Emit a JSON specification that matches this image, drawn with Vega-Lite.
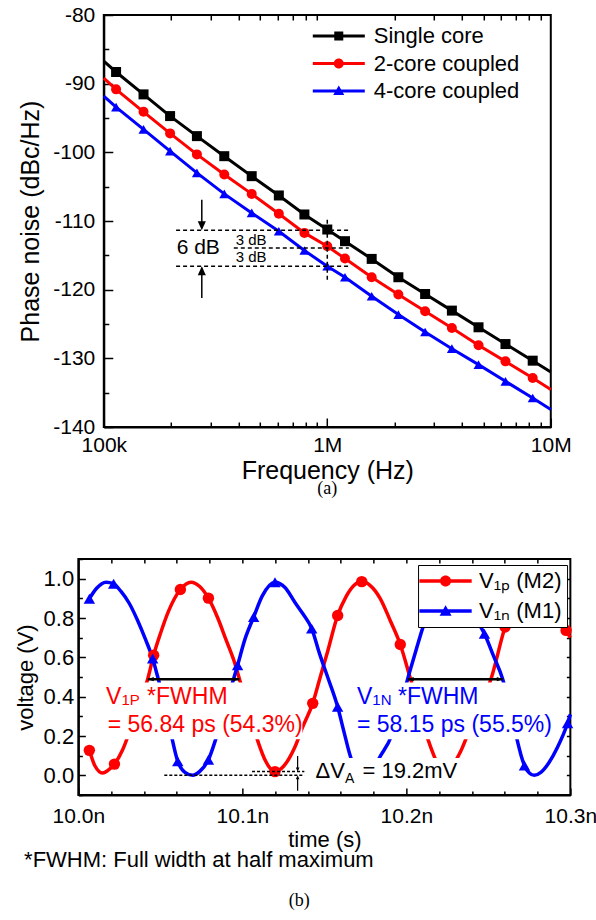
{
  "$schema": "https://vega.github.io/schema/vega-lite/v6.json",
  "background": "white",
  "padding": {"left": 0, "top": 3, "right": 0, "bottom": 0},
  "center": true,
  "spacing": 48,
  "title": {"text": "(b)", "orient": "bottom", "anchor": "middle", "font": "Liberation Serif", "fontSize": 18, "fontWeight": "normal", "color": "black", "offset": 20},
  "datasets": {
    "pn": [
      {"series": "Single core", "freq": 100000, "noise": -86.7},
      {"series": "Single core", "freq": 113500, "noise": -88.3, "marker": true},
      {"series": "Single core", "freq": 150600, "noise": -91.56, "marker": true},
      {"series": "Single core", "freq": 198000, "noise": -94.72, "marker": true},
      {"series": "Single core", "freq": 261000, "noise": -97.64, "marker": true},
      {"series": "Single core", "freq": 346000, "noise": -100.56, "marker": true},
      {"series": "Single core", "freq": 459000, "noise": -103.47, "marker": true},
      {"series": "Single core", "freq": 607000, "noise": -106.28, "marker": true},
      {"series": "Single core", "freq": 790000, "noise": -109.05, "marker": true},
      {"series": "Single core", "freq": 1000000, "noise": -111.24, "marker": true},
      {"series": "Single core", "freq": 1200000, "noise": -112.94, "marker": true},
      {"series": "Single core", "freq": 1580000, "noise": -115.52, "marker": true},
      {"series": "Single core", "freq": 2080000, "noise": -118.19, "marker": true},
      {"series": "Single core", "freq": 2740000, "noise": -120.63, "marker": true},
      {"series": "Single core", "freq": 3610000, "noise": -123.05, "marker": true},
      {"series": "Single core", "freq": 4750000, "noise": -125.48, "marker": true},
      {"series": "Single core", "freq": 6270000, "noise": -127.92, "marker": true},
      {"series": "Single core", "freq": 8300000, "noise": -130.34, "marker": true},
      {"series": "Single core", "freq": 10000000, "noise": -132.0},
      {"series": "2-core coupled", "freq": 100000, "noise": -89.2},
      {"series": "2-core coupled", "freq": 113500, "noise": -90.83, "marker": true},
      {"series": "2-core coupled", "freq": 150600, "noise": -94.1, "marker": true},
      {"series": "2-core coupled", "freq": 198000, "noise": -97.24, "marker": true},
      {"series": "2-core coupled", "freq": 261000, "noise": -100.3, "marker": true},
      {"series": "2-core coupled", "freq": 346000, "noise": -103.22, "marker": true},
      {"series": "2-core coupled", "freq": 459000, "noise": -106.05, "marker": true},
      {"series": "2-core coupled", "freq": 607000, "noise": -108.94, "marker": true},
      {"series": "2-core coupled", "freq": 790000, "noise": -111.73, "marker": true},
      {"series": "2-core coupled", "freq": 1000000, "noise": -113.67, "marker": true},
      {"series": "2-core coupled", "freq": 1200000, "noise": -115.47, "marker": true},
      {"series": "2-core coupled", "freq": 1580000, "noise": -118.19, "marker": true},
      {"series": "2-core coupled", "freq": 2080000, "noise": -120.71, "marker": true},
      {"series": "2-core coupled", "freq": 2740000, "noise": -123.15, "marker": true},
      {"series": "2-core coupled", "freq": 3610000, "noise": -125.58, "marker": true},
      {"series": "2-core coupled", "freq": 4750000, "noise": -128.1, "marker": true},
      {"series": "2-core coupled", "freq": 6270000, "noise": -130.44, "marker": true},
      {"series": "2-core coupled", "freq": 8300000, "noise": -132.87, "marker": true},
      {"series": "2-core coupled", "freq": 10000000, "noise": -134.55},
      {"series": "4-core coupled", "freq": 100000, "noise": -91.8},
      {"series": "4-core coupled", "freq": 113500, "noise": -93.41, "marker": true},
      {"series": "4-core coupled", "freq": 150600, "noise": -96.66, "marker": true},
      {"series": "4-core coupled", "freq": 198000, "noise": -99.83, "marker": true},
      {"series": "4-core coupled", "freq": 261000, "noise": -102.99, "marker": true},
      {"series": "4-core coupled", "freq": 346000, "noise": -106.05, "marker": true},
      {"series": "4-core coupled", "freq": 459000, "noise": -108.82, "marker": true},
      {"series": "4-core coupled", "freq": 607000, "noise": -111.49, "marker": true},
      {"series": "4-core coupled", "freq": 790000, "noise": -114.3, "marker": true},
      {"series": "4-core coupled", "freq": 1000000, "noise": -116.59, "marker": true},
      {"series": "4-core coupled", "freq": 1200000, "noise": -118.19, "marker": true},
      {"series": "4-core coupled", "freq": 1580000, "noise": -120.96, "marker": true},
      {"series": "4-core coupled", "freq": 2080000, "noise": -123.63, "marker": true},
      {"series": "4-core coupled", "freq": 2740000, "noise": -126.17, "marker": true},
      {"series": "4-core coupled", "freq": 3610000, "noise": -128.59, "marker": true},
      {"series": "4-core coupled", "freq": 4750000, "noise": -130.92, "marker": true},
      {"series": "4-core coupled", "freq": 6270000, "noise": -133.35, "marker": true},
      {"series": "4-core coupled", "freq": 8300000, "noise": -135.78, "marker": true},
      {"series": "4-core coupled", "freq": 10000000, "noise": -137.45}
    ],
    "dashH": [
      {"freq": 210600, "freq2": 1248000, "noise": -111.34},
      {"freq": 381700, "freq2": 1248000, "noise": -113.92},
      {"freq": 210600, "freq2": 1248000, "noise": -116.59}
    ],
    "dashV": [
      {"freq": 1000000, "noise": -109.8, "noise2": -118.6}
    ],
    "shaftsA": [
      {"freq": 274500, "noise": -106.9, "noise2": -111.0},
      {"freq": 274500, "noise": -121.2, "noise2": -116.8}
    ],
    "headsA": [
      {"freq": 274500, "noise": -111.34, "dir": "down"},
      {"freq": 274500, "noise": -116.59, "dir": "up"}
    ],
    "notesA": [
      {"freq": 264700, "noise": -113.9, "label": "6 dB", "kind": "big"},
      {"freq": 456000, "noise": -112.7, "label": "3 dB", "kind": "small"},
      {"freq": 456000, "noise": -115.3, "label": "3 dB", "kind": "small"}
    ],
    "wave": [
      {"series": "V1P (M2)", "time": 10.0067, "voltage": 0.127, "marker": true},
      {"series": "V1P (M2)", "time": 10.0100, "voltage": 0.050},
      {"series": "V1P (M2)", "time": 10.0148, "voltage": 0.012},
      {"series": "V1P (M2)", "time": 10.0180, "voltage": 0.025},
      {"series": "V1P (M2)", "time": 10.0220, "voltage": 0.057, "marker": true},
      {"series": "V1P (M2)", "time": 10.0270, "voltage": 0.130},
      {"series": "V1P (M2)", "time": 10.0320, "voltage": 0.240},
      {"series": "V1P (M2)", "time": 10.0380, "voltage": 0.385},
      {"series": "V1P (M2)", "time": 10.0423, "voltage": 0.490},
      {"series": "V1P (M2)", "time": 10.0459, "voltage": 0.611, "marker": true},
      {"series": "V1P (M2)", "time": 10.0500, "voltage": 0.720},
      {"series": "V1P (M2)", "time": 10.0550, "voltage": 0.835},
      {"series": "V1P (M2)", "time": 10.0622, "voltage": 0.945, "marker": true},
      {"series": "V1P (M2)", "time": 10.0687, "voltage": 0.982},
      {"series": "V1P (M2)", "time": 10.0740, "voltage": 0.960},
      {"series": "V1P (M2)", "time": 10.0793, "voltage": 0.901, "marker": true},
      {"series": "V1P (M2)", "time": 10.0850, "voltage": 0.800},
      {"series": "V1P (M2)", "time": 10.0900, "voltage": 0.690},
      {"series": "V1P (M2)", "time": 10.0950, "voltage": 0.580},
      {"series": "V1P (M2)", "time": 10.0982, "voltage": 0.490},
      {"series": "V1P (M2)", "time": 10.1020, "voltage": 0.380},
      {"series": "V1P (M2)", "time": 10.1060, "voltage": 0.265},
      {"series": "V1P (M2)", "time": 10.1100, "voltage": 0.160},
      {"series": "V1P (M2)", "time": 10.1140, "voltage": 0.075},
      {"series": "V1P (M2)", "time": 10.1199, "voltage": 0.019, "marker": true},
      {"series": "V1P (M2)", "time": 10.1250, "voltage": 0.045},
      {"series": "V1P (M2)", "time": 10.1317, "voltage": 0.138},
      {"series": "V1P (M2)", "time": 10.1370, "voltage": 0.250},
      {"series": "V1P (M2)", "time": 10.1429, "voltage": 0.366, "marker": true},
      {"series": "V1P (M2)", "time": 10.1475, "voltage": 0.500},
      {"series": "V1P (M2)", "time": 10.1520, "voltage": 0.630},
      {"series": "V1P (M2)", "time": 10.1581, "voltage": 0.813, "marker": true},
      {"series": "V1P (M2)", "time": 10.1630, "voltage": 0.905},
      {"series": "V1P (M2)", "time": 10.1680, "voltage": 0.965},
      {"series": "V1P (M2)", "time": 10.1728, "voltage": 0.985, "marker": true},
      {"series": "V1P (M2)", "time": 10.1780, "voltage": 0.965},
      {"series": "V1P (M2)", "time": 10.1840, "voltage": 0.900},
      {"series": "V1P (M2)", "time": 10.1900, "voltage": 0.790},
      {"series": "V1P (M2)", "time": 10.1963, "voltage": 0.665, "marker": true},
      {"series": "V1P (M2)", "time": 10.2020, "voltage": 0.505},
      {"series": "V1P (M2)", "time": 10.2070, "voltage": 0.360},
      {"series": "V1P (M2)", "time": 10.2110, "voltage": 0.240},
      {"series": "V1P (M2)", "time": 10.2150, "voltage": 0.140},
      {"series": "V1P (M2)", "time": 10.2190, "voltage": 0.060},
      {"series": "V1P (M2)", "time": 10.2235, "voltage": 0.020},
      {"series": "V1P (M2)", "time": 10.2280, "voltage": 0.050},
      {"series": "V1P (M2)", "time": 10.2330, "voltage": 0.120},
      {"series": "V1P (M2)", "time": 10.2380, "voltage": 0.220},
      {"series": "V1P (M2)", "time": 10.2430, "voltage": 0.320},
      {"series": "V1P (M2)", "time": 10.2516, "voltage": 0.490},
      {"series": "V1P (M2)", "time": 10.2602, "voltage": 0.754, "marker": true},
      {"series": "V1P (M2)", "time": 10.2650, "voltage": 0.860},
      {"series": "V1P (M2)", "time": 10.2700, "voltage": 0.940},
      {"series": "V1P (M2)", "time": 10.2765, "voltage": 0.985},
      {"series": "V1P (M2)", "time": 10.2830, "voltage": 0.950},
      {"series": "V1P (M2)", "time": 10.2890, "voltage": 0.880},
      {"series": "V1P (M2)", "time": 10.2974, "voltage": 0.737, "marker": true},
      {"series": "V1P (M2)", "time": 10.3000, "voltage": 0.700},
      {"series": "V1N (M1)", "time": 10.0067, "voltage": 0.898, "marker": true},
      {"series": "V1N (M1)", "time": 10.0110, "voltage": 0.950},
      {"series": "V1N (M1)", "time": 10.0169, "voltage": 0.982},
      {"series": "V1N (M1)", "time": 10.0215, "voltage": 0.974, "marker": true},
      {"series": "V1N (M1)", "time": 10.0260, "voltage": 0.935},
      {"series": "V1N (M1)", "time": 10.0310, "voltage": 0.875},
      {"series": "V1N (M1)", "time": 10.0360, "voltage": 0.790},
      {"series": "V1N (M1)", "time": 10.0410, "voltage": 0.690},
      {"series": "V1N (M1)", "time": 10.0453, "voltage": 0.594, "marker": true},
      {"series": "V1N (M1)", "time": 10.0484, "voltage": 0.500},
      {"series": "V1N (M1)", "time": 10.0520, "voltage": 0.385},
      {"series": "V1N (M1)", "time": 10.0560, "voltage": 0.230},
      {"series": "V1N (M1)", "time": 10.0606, "voltage": 0.071, "marker": true},
      {"series": "V1N (M1)", "time": 10.0650, "voltage": 0.015},
      {"series": "V1N (M1)", "time": 10.0697, "voltage": 0.000},
      {"series": "V1N (M1)", "time": 10.0740, "voltage": 0.020},
      {"series": "V1N (M1)", "time": 10.0793, "voltage": 0.079, "marker": true},
      {"series": "V1N (M1)", "time": 10.0840, "voltage": 0.190},
      {"series": "V1N (M1)", "time": 10.0890, "voltage": 0.330},
      {"series": "V1N (M1)", "time": 10.0950, "voltage": 0.500},
      {"series": "V1N (M1)", "time": 10.0971, "voltage": 0.560, "marker": true},
      {"series": "V1N (M1)", "time": 10.1015, "voltage": 0.690},
      {"series": "V1N (M1)", "time": 10.1069, "voltage": 0.805, "marker": true},
      {"series": "V1N (M1)", "time": 10.1120, "voltage": 0.910},
      {"series": "V1N (M1)", "time": 10.1199, "voltage": 0.982, "marker": true},
      {"series": "V1N (M1)", "time": 10.1260, "voltage": 0.955},
      {"series": "V1N (M1)", "time": 10.1320, "voltage": 0.880},
      {"series": "V1N (M1)", "time": 10.1370, "voltage": 0.820},
      {"series": "V1N (M1)", "time": 10.1423, "voltage": 0.746, "marker": true},
      {"series": "V1N (M1)", "time": 10.1470, "voltage": 0.620},
      {"series": "V1N (M1)", "time": 10.1520, "voltage": 0.500},
      {"series": "V1N (M1)", "time": 10.1581, "voltage": 0.349, "marker": true},
      {"series": "V1N (M1)", "time": 10.1620, "voltage": 0.220},
      {"series": "V1N (M1)", "time": 10.1662, "voltage": 0.088},
      {"series": "V1N (M1)", "time": 10.1700, "voltage": 0.025},
      {"series": "V1N (M1)", "time": 10.1750, "voltage": 0.003},
      {"series": "V1N (M1)", "time": 10.1800, "voltage": 0.030},
      {"series": "V1N (M1)", "time": 10.1835, "voltage": 0.088},
      {"series": "V1N (M1)", "time": 10.1909, "voltage": 0.200},
      {"series": "V1N (M1)", "time": 10.1960, "voltage": 0.340},
      {"series": "V1N (M1)", "time": 10.2008, "voltage": 0.490},
      {"series": "V1N (M1)", "time": 10.2050, "voltage": 0.610},
      {"series": "V1N (M1)", "time": 10.2100, "voltage": 0.750},
      {"series": "V1N (M1)", "time": 10.2160, "voltage": 0.880},
      {"series": "V1N (M1)", "time": 10.2235, "voltage": 0.980},
      {"series": "V1N (M1)", "time": 10.2300, "voltage": 0.950},
      {"series": "V1N (M1)", "time": 10.2360, "voltage": 0.880},
      {"series": "V1N (M1)", "time": 10.2420, "voltage": 0.800},
      {"series": "V1N (M1)", "time": 10.2476, "voltage": 0.720, "marker": true},
      {"series": "V1N (M1)", "time": 10.2530, "voltage": 0.610},
      {"series": "V1N (M1)", "time": 10.2587, "voltage": 0.490},
      {"series": "V1N (M1)", "time": 10.2630, "voltage": 0.350},
      {"series": "V1N (M1)", "time": 10.2668, "voltage": 0.206},
      {"series": "V1N (M1)", "time": 10.2700, "voltage": 0.100},
      {"series": "V1N (M1)", "time": 10.2720, "voltage": 0.050, "marker": true},
      {"series": "V1N (M1)", "time": 10.2750, "voltage": 0.012},
      {"series": "V1N (M1)", "time": 10.2780, "voltage": 0.000},
      {"series": "V1N (M1)", "time": 10.2820, "voltage": 0.015},
      {"series": "V1N (M1)", "time": 10.2870, "voltage": 0.065},
      {"series": "V1N (M1)", "time": 10.2920, "voltage": 0.140},
      {"series": "V1N (M1)", "time": 10.2983, "voltage": 0.265, "marker": true},
      {"series": "V1N (M1)", "time": 10.3000, "voltage": 0.310}
    ],
    "masks": [
      {"time": 10.0159, "time2": 10.1366, "voltage": 0.184, "voltage2": 0.472},
      {"time": 10.1677, "time2": 10.2909, "voltage": 0.184, "voltage2": 0.472},
      {"time": 10.1405, "time2": 10.2345, "voltage": -0.063, "voltage2": 0.088}
    ],
    "fwhm": [
      {"time": 10.0423, "time2": 10.0982, "voltage": 0.489},
      {"time": 10.2008, "time2": 10.2588, "voltage": 0.489}
    ],
    "fwhmHeads": [
      {"time": 10.0423, "voltage": 0.489, "dir": "left"},
      {"time": 10.0982, "voltage": 0.489, "dir": "right"},
      {"time": 10.2008, "voltage": 0.489, "dir": "left"},
      {"time": 10.2588, "voltage": 0.489, "dir": "right"}
    ],
    "dashB": [
      {"time": 10.0524, "time2": 10.1378, "voltage": 0.0},
      {"time": 10.1059, "time2": 10.1378, "voltage": 0.0192}
    ],
    "dvShafts": [
      {"time": 10.1337, "voltage": 0.098, "voltage2": 0.03},
      {"time": 10.1337, "voltage": -0.078, "voltage2": -0.012}
    ],
    "dvHeads": [
      {"time": 10.1337, "voltage": 0.0192, "dir": "down"},
      {"time": 10.1337, "voltage": 0.0, "dir": "up"}
    ],
    "notesB": [
      {"series": "V1P (M2)", "piece": "main", "text": "V", "time": 10.0169, "voltage": 0.3625},
      {"series": "V1P (M2)", "piece": "sub", "text": "1P", "time": 10.0169, "voltage": 0.3625},
      {"series": "V1P (M2)", "piece": "rest", "text": "*FWHM", "time": 10.0169, "voltage": 0.3625},
      {"series": "V1P (M2)", "piece": "main", "text": "= 56.84 ps (54.3%)", "time": 10.0179, "voltage": 0.2228},
      {"series": "V1N (M1)", "piece": "main", "text": "V", "time": 10.1699, "voltage": 0.3625},
      {"series": "V1N (M1)", "piece": "sub", "text": "1N", "time": 10.1699, "voltage": 0.3625},
      {"series": "V1N (M1)", "piece": "rest", "text": "*FWHM", "time": 10.1699, "voltage": 0.3625},
      {"series": "V1N (M1)", "piece": "main", "text": "= 58.15 ps (55.5%)", "time": 10.1699, "voltage": 0.2228}
    ],
    "dvText": [
      {"piece": "main", "text": "ΔV", "time": 10.1446, "voltage": -0.014},
      {"piece": "sub", "text": "A", "time": 10.1446, "voltage": -0.014},
      {"piece": "rest", "text": "= 19.2mV", "time": 10.1446, "voltage": -0.014}
    ]
  },
  "vconcat": [
    {
      "width": 447,
      "height": 412,
      "title": {"text": "(a)", "orient": "bottom", "anchor": "middle", "font": "Liberation Serif", "fontSize": 18, "fontWeight": "normal", "color": "black", "offset": -3},
      "layer": [
        {
          "encoding": {
            "x": {"field": "freq", "type": "quantitative",
              "scale": {"type": "log", "domain": [100000, 10000000], "nice": false},
              "axis": {"title": "Frequency (Hz)", "titleFontSize": 25, "titlePadding": -1, "labelFontSize": 21,
                "values": [100000, 200000, 300000, 400000, 500000, 600000, 700000, 800000, 900000, 1000000, 2000000, 3000000, 4000000, 5000000, 6000000, 7000000, 8000000, 9000000, 10000000],
                "labelExpr": "datum.value == 100000 ? '100k' : datum.value == 1000000 ? '1M' : datum.value == 10000000 ? '10M' : ''",
                "tickSize": {"condition": {"test": "datum.value == 100000 || datum.value == 1000000 || datum.value == 10000000", "value": -9}, "value": -5},
                "labelPadding": 16, "labelOverlap": false, "labelFlush": false}},
            "y": {"field": "noise", "type": "quantitative",
              "scale": {"domain": [-140, -80], "nice": false, "zero": false},
              "axis": {"title": ["", "Phase noise (dBc/Hz)"], "titleLineHeight": 17, "titleFontSize": 25, "titlePadding": 9, "labelFontSize": 21,
                "values": [-140, -135, -130, -125, -120, -115, -110, -105, -100, -95, -90, -85, -80],
                "labelExpr": "datum.value % 10 == 0 ? '' + datum.value : ''",
                "tickSize": {"condition": {"test": "datum.value % 10 == 0", "value": -9}, "value": -5},
                "labelPadding": 18, "labelOverlap": false, "labelFlush": false}}
          },
          "layer": [
            {
              "data": {"name": "pn"},
              "mark": {"type": "line", "strokeWidth": 3},
              "encoding": {
                "color": {"field": "series", "type": "nominal", "scale": {"domain": ["Single core", "2-core coupled", "4-core coupled"], "range": ["#000000", "#ff0000", "#0000ff"]}, "legend": null}
              }
            },
            {
              "data": {"name": "pn"},
              "transform": [{"filter": "datum.marker"}],
              "mark": {"type": "point", "filled": true, "opacity": 1, "size": 100},
              "encoding": {
                "color": {"field": "series", "type": "nominal", "scale": {"domain": ["Single core", "2-core coupled", "4-core coupled"], "range": ["#000000", "#ff0000", "#0000ff"]}, "legend": null},
                "shape": {"field": "series", "type": "nominal", "scale": {"domain": ["Single core", "2-core coupled", "4-core coupled"], "range": ["square", "circle", "triangle-up"]}, "legend": null}
              }
            },
            {
              "data": {"name": "dashH"},
              "mark": {"type": "rule", "color": "black", "strokeWidth": 1.5, "strokeDash": [4, 3]},
              "encoding": {"x2": {"field": "freq2"}}
            },
            {
              "data": {"name": "dashV"},
              "mark": {"type": "rule", "color": "black", "strokeWidth": 1.5, "strokeDash": [4, 3]},
              "encoding": {"y2": {"field": "noise2"}}
            },
            {
              "data": {"name": "shaftsA"},
              "mark": {"type": "rule", "color": "black", "strokeWidth": 1.5},
              "encoding": {"y2": {"field": "noise2"}}
            },
            {
              "data": {"name": "headsA"},
              "transform": [{"filter": "datum.dir == 'down'"}],
              "mark": {"type": "point", "filled": true, "opacity": 1, "color": "black", "size": 81, "shape": "M0,1L-0.9,-1L0.9,-1Z", "yOffset": -4.5},
              "encoding": {}
            },
            {
              "data": {"name": "headsA"},
              "transform": [{"filter": "datum.dir == 'up'"}],
              "mark": {"type": "point", "filled": true, "opacity": 1, "color": "black", "size": 81, "shape": "M0,-1L0.9,1L-0.9,1Z", "yOffset": 4.5},
              "encoding": {}
            },
            {
              "data": {"name": "notesA"},
              "transform": [{"filter": "datum.kind == 'big'"}],
              "mark": {"type": "text", "fontSize": 21, "align": "center", "baseline": "middle", "color": "black"},
              "encoding": {"text": {"field": "label"}}
            },
            {
              "data": {"name": "notesA"},
              "transform": [{"filter": "datum.kind == 'small'"}],
              "mark": {"type": "text", "fontSize": 15, "align": "center", "baseline": "middle", "color": "black"},
              "encoding": {"text": {"field": "label"}}
            },
            {
              "data": {"name": "pn"},
              "transform": [{"filter": "false"}],
              "mark": {"type": "point", "filled": true, "opacity": 1, "size": 144},
              "encoding": {
                "color": {"field": "series", "type": "nominal", "scale": {"domain": ["Single core", "2-core coupled", "4-core coupled"], "range": ["#000000", "#ff0000", "#0000ff"]},
                  "legend": {"title": null, "orient": "none", "legendX": 198, "legendY": 10, "labelFontSize": 22, "labelOffset": 50, "rowPadding": 5.5, "padding": 0, "symbolSize": 144, "symbolStrokeWidth": 0, "zindex": 1}},
                "shape": {"field": "series", "type": "nominal", "scale": {"domain": ["Single core", "2-core coupled", "4-core coupled"], "range": [
                    "M0,-0.25H8.67V0.25H0Z M3.58,-0.75H5.08V0.75H3.58Z",
                    "M0,-0.25H8.67V0.25H0Z M3.5,0A0.83,0.83 0 1,1 5.16,0A0.83,0.83 0 1,1 3.5,0Z",
                    "M0,-0.25H8.67V0.25H0Z M4.33,-0.9L5.25,0.68L3.41,0.68Z"]},
                  "legend": {"title": null, "orient": "none", "legendX": 198, "legendY": 10, "labelFontSize": 22, "labelOffset": 50, "rowPadding": 5.5, "padding": 0, "symbolSize": 144, "symbolStrokeWidth": 0, "zindex": 1}}
              }
            }
          ],
          "resolve": {"scale": {"color": "independent", "shape": "independent"}}
        },
        {
          "data": {"name": "pn"},
          "transform": [{"filter": "false"}],
          "mark": {"type": "rule"},
          "encoding": {
            "x": {"field": "freq", "type": "quantitative",
              "scale": {"type": "log", "domain": [100000, 10000000], "nice": false},
              "axis": {"orient": "top", "title": null, "labels": false, "domain": false, "tickSize": -5,
                "values": [200000, 300000, 400000, 500000, 600000, 700000, 800000, 900000, 2000000, 3000000, 4000000, 5000000, 6000000, 7000000, 8000000, 9000000]}}
          }
        }
      ],
      "resolve": {"axis": {"x": "independent"}}
    },
    {
      "width": 492,
      "height": 236,
      "title": {"text": "*FWHM: Full width at half maximum", "orient": "bottom", "anchor": "start", "font": "Liberation Sans", "fontSize": 22, "fontWeight": "normal", "color": "black", "offset": 0, "dx": 10},
      "layer": [
        {
          "encoding": {
            "x": {"field": "time", "type": "quantitative",
              "scale": {"domain": [10.0, 10.3], "nice": false, "zero": false},
              "axis": {"title": "time (s)", "titleFontSize": 22, "titlePadding": 0, "labelFontSize": 21,
                "values": [10.0, 10.02, 10.04, 10.06, 10.08, 10.1, 10.12, 10.14, 10.16, 10.18, 10.2, 10.22, 10.24, 10.26, 10.28, 10.3],
                "labelExpr": "abs(datum.value * 10 - round(datum.value * 10)) < 0.001 ? format(datum.value, '.1f') + 'n' : ''",
                "tickSize": {"condition": {"test": "abs(datum.value * 10 - round(datum.value * 10)) < 0.001", "value": -7}, "value": -4},
                "labelPadding": 17, "labelOverlap": false, "labelFlush": false}},
            "y": {"field": "voltage", "type": "quantitative",
              "scale": {"domain": [-0.1, 1.1], "nice": false, "zero": false},
              "axis": {"title": "voltage (V)", "titleFontSize": 22, "titlePadding": 6, "labelFontSize": 22,
                "values": [-0.1, 0, 0.1, 0.2, 0.3, 0.4, 0.5, 0.6, 0.7, 0.8, 0.9, 1.0, 1.1],
                "labelExpr": "abs(datum.value * 5 - round(datum.value * 5)) < 0.001 ? format(datum.value, '.1f') : ''",
                "tickSize": {"condition": {"test": "abs(datum.value * 5 - round(datum.value * 5)) < 0.001", "value": -7}, "value": -4},
                "labelPadding": 11.7, "labelOverlap": false, "labelFlush": false}}
          },
          "layer": [
            {
              "data": {"name": "wave"},
              "mark": {"type": "line", "strokeWidth": 3.5, "interpolate": "monotone"},
              "encoding": {
                "color": {"field": "series", "type": "nominal", "scale": {"domain": ["V1P (M2)", "V1N (M1)"], "range": ["#ff0000", "#0000ff"]}, "legend": null}
              }
            },
            {
              "data": {"name": "wave"},
              "transform": [{"filter": "datum.marker"}],
              "mark": {"type": "point", "filled": true, "opacity": 1, "size": 130},
              "encoding": {
                "color": {"field": "series", "type": "nominal", "scale": {"domain": ["V1P (M2)", "V1N (M1)"], "range": ["#ff0000", "#0000ff"]}, "legend": null},
                "shape": {"field": "series", "type": "nominal", "scale": {"domain": ["V1P (M2)", "V1N (M1)"], "range": ["circle", "triangle-up"]}, "legend": null}
              }
            },
            {
              "data": {"name": "masks"},
              "mark": {"type": "rect", "color": "white", "opacity": 1},
              "encoding": {"x2": {"field": "time2"}, "y2": {"field": "voltage2"}}
            },
            {
              "data": {"name": "fwhm"},
              "mark": {"type": "rule", "color": "black", "strokeWidth": 2.5},
              "encoding": {"x2": {"field": "time2"}}
            },
            {
              "data": {"name": "fwhmHeads"},
              "transform": [{"filter": "datum.dir == 'left'"}],
              "mark": {"type": "point", "filled": true, "opacity": 1, "color": "black", "size": 36, "shape": "M-1,0L1,-0.7L1,0.7Z", "xOffset": 3},
              "encoding": {}
            },
            {
              "data": {"name": "fwhmHeads"},
              "transform": [{"filter": "datum.dir == 'right'"}],
              "mark": {"type": "point", "filled": true, "opacity": 1, "color": "black", "size": 36, "shape": "M1,0L-1,0.7L-1,-0.7Z", "xOffset": -3},
              "encoding": {}
            },
            {
              "data": {"name": "dashB"},
              "mark": {"type": "rule", "color": "black", "strokeWidth": 1.5, "strokeDash": [3, 2]},
              "encoding": {"x2": {"field": "time2"}}
            },
            {
              "data": {"name": "dvShafts"},
              "mark": {"type": "rule", "color": "black", "strokeWidth": 1.2},
              "encoding": {"y2": {"field": "voltage2"}}
            },
            {
              "data": {"name": "dvHeads"},
              "transform": [{"filter": "datum.dir == 'down'"}],
              "mark": {"type": "point", "filled": true, "opacity": 1, "color": "black", "size": 16, "shape": "M0,1L-0.9,-1L0.9,-1Z", "yOffset": -2},
              "encoding": {}
            },
            {
              "data": {"name": "dvHeads"},
              "transform": [{"filter": "datum.dir == 'up'"}],
              "mark": {"type": "point", "filled": true, "opacity": 1, "color": "black", "size": 16, "shape": "M0,-1L0.9,1L-0.9,1Z", "yOffset": 2},
              "encoding": {}
            },
            {
              "data": {"name": "notesB"},
              "transform": [{"filter": "datum.piece == 'main'"}],
              "mark": {"type": "text", "fontSize": 23, "align": "left", "baseline": "alphabetic"},
              "encoding": {
                "text": {"field": "text"},
                "color": {"field": "series", "type": "nominal", "scale": {"domain": ["V1P (M2)", "V1N (M1)"], "range": ["#ff0000", "#0000ff"]}, "legend": null}
              }
            },
            {
              "data": {"name": "notesB"},
              "transform": [{"filter": "datum.piece == 'sub'"}],
              "mark": {"type": "text", "fontSize": 15, "align": "left", "baseline": "alphabetic", "dx": 15.3, "dy": 1},
              "encoding": {
                "text": {"field": "text"},
                "color": {"field": "series", "type": "nominal", "scale": {"domain": ["V1P (M2)", "V1N (M1)"], "range": ["#ff0000", "#0000ff"]}, "legend": null}
              }
            },
            {
              "data": {"name": "notesB"},
              "transform": [{"filter": "datum.piece == 'rest'"}],
              "mark": {"type": "text", "fontSize": 23, "align": "left", "baseline": "alphabetic", "dx": 41},
              "encoding": {
                "text": {"field": "text"},
                "color": {"field": "series", "type": "nominal", "scale": {"domain": ["V1P (M2)", "V1N (M1)"], "range": ["#ff0000", "#0000ff"]}, "legend": null}
              }
            },
            {
              "data": {"name": "dvText"},
              "transform": [{"filter": "datum.piece == 'main'"}],
              "mark": {"type": "text", "fontSize": 22, "align": "left", "baseline": "alphabetic", "color": "black"},
              "encoding": {"text": {"field": "text"}}
            },
            {
              "data": {"name": "dvText"},
              "transform": [{"filter": "datum.piece == 'sub'"}],
              "mark": {"type": "text", "fontSize": 14, "align": "left", "baseline": "alphabetic", "color": "black", "dx": 29.4, "dy": 5},
              "encoding": {"text": {"field": "text"}}
            },
            {
              "data": {"name": "dvText"},
              "transform": [{"filter": "datum.piece == 'rest'"}],
              "mark": {"type": "text", "fontSize": 22, "align": "left", "baseline": "alphabetic", "color": "black", "dx": 47},
              "encoding": {"text": {"field": "text"}}
            },
            {
              "data": {"name": "wave"},
              "transform": [{"filter": "false"}],
              "mark": {"type": "point", "filled": true, "opacity": 1, "size": 144},
              "encoding": {
                "color": {"field": "series", "type": "nominal", "scale": {"domain": ["V1P (M2)", "V1N (M1)"], "range": ["#ff0000", "#0000ff"]},
                  "legend": {"title": null, "orient": "none", "legendX": 339.7, "legendY": 6, "labelFontSize": 22, "labelOffset": 34, "rowPadding": 8, "padding": 5, "symbolSize": 144, "symbolStrokeWidth": 0, "fillColor": "white", "strokeColor": "black", "zindex": 1,
                    "labelExpr": "datum.label == 'V1P (M2)' ? 'V₁ₚ (M2)' : 'V₁ₙ (M1)'"}},
                "shape": {"field": "series", "type": "nominal", "scale": {"domain": ["V1P (M2)", "V1N (M1)"], "range": [
                    "M-2.45,-0.29H6.27V0.29H-2.45Z M1,0A0.92,0.92 0 1,1 2.84,0A0.92,0.92 0 1,1 1,0Z",
                    "M-2.45,-0.29H6.27V0.29H-2.45Z M1.92,-0.95L2.92,0.78L0.92,0.78Z"]},
                  "legend": {"title": null, "orient": "none", "legendX": 339.7, "legendY": 6, "labelFontSize": 22, "labelOffset": 34, "rowPadding": 8, "padding": 5, "symbolSize": 144, "symbolStrokeWidth": 0, "fillColor": "white", "strokeColor": "black", "zindex": 1,
                    "labelExpr": "datum.label == 'V1P (M2)' ? 'V₁ₚ (M2)' : 'V₁ₙ (M1)'"}}
              }
            }
          ],
          "resolve": {"scale": {"color": "independent", "shape": "independent"}}
        },
        {
          "data": {"name": "wave"},
          "transform": [{"filter": "false"}],
          "mark": {"type": "point"},
          "encoding": {
            "x": {"field": "time", "type": "quantitative",
              "scale": {"domain": [10.0, 10.3], "nice": false, "zero": false},
              "axis": {"orient": "top", "title": null, "labels": false, "domain": false, "tickSize": -4,
                "values": [10.02, 10.04, 10.06, 10.08, 10.1, 10.12, 10.14, 10.16, 10.18, 10.2, 10.22, 10.24, 10.26, 10.28]}},
            "y": {"field": "voltage", "type": "quantitative",
              "scale": {"domain": [-0.1, 1.1], "nice": false, "zero": false},
              "axis": {"orient": "right", "title": null, "labels": false, "domain": false, "tickSize": -4,
                "values": [0, 0.1, 0.2, 0.3, 0.4, 0.5, 0.6, 0.7, 0.8, 0.9, 1.0]}}
          }
        }
      ],
      "resolve": {"axis": {"x": "independent", "y": "independent"}}
    }
  ],
  "config": {
    "font": "Liberation Sans",
    "view": {"stroke": "black", "strokeWidth": 2},
    "axis": {"grid": false, "domainColor": "black", "domainWidth": 2, "tickColor": "black", "tickWidth": 1.5, "labelColor": "black", "titleColor": "black", "labelFont": "Liberation Sans", "titleFont": "Liberation Sans", "titleFontWeight": "normal"},
    "legend": {"labelFont": "Liberation Sans", "labelColor": "black"},
    "text": {"font": "Liberation Sans"}
  }
}
